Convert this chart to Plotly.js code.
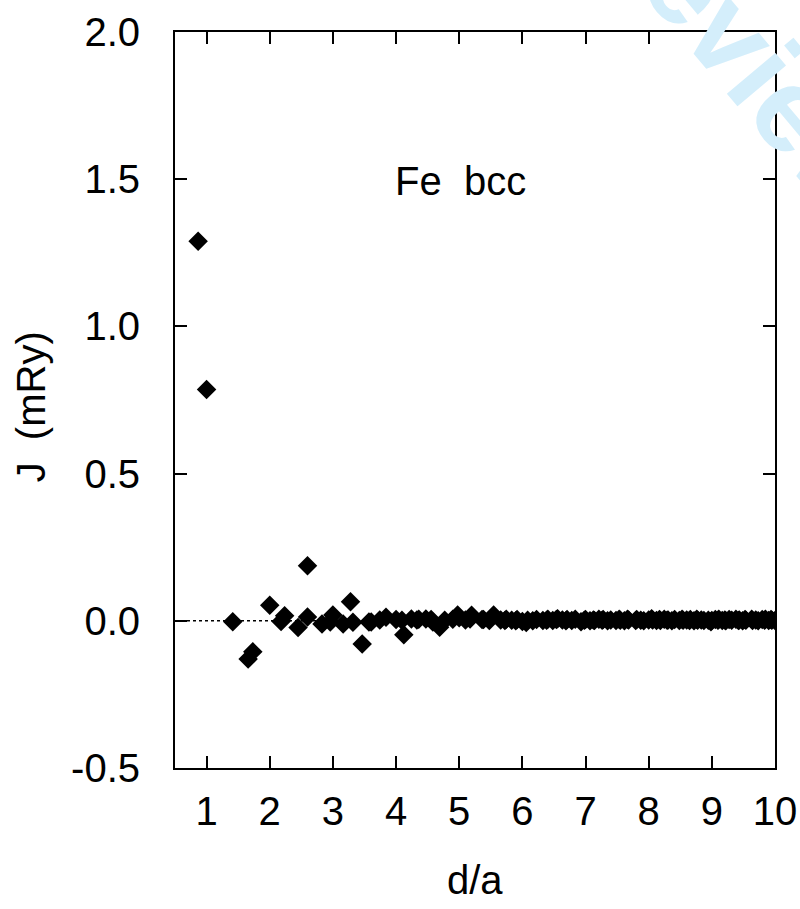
<!DOCTYPE html>
<html>
<head>
<meta charset="utf-8">
<script src="https://cdn.plot.ly/plotly-3.0.1.min.js"></script>
<style>
  html, body { margin: 0; padding: 0; background: #ffffff; }
  #chart { width: 800px; height: 909px; }
</style>
</head>
<body>
<div id="chart"></div>
<script>
// Shell distances d/a (bcc Fe) and exchange parameters J (mRy)
const distances = [
  0.866, 1.000, 1.414, 1.658, 1.732, 2.000, 2.179, 2.236, 2.449, 2.598,
  2.598, 2.828, 2.958, 3.000, 3.162, 3.279, 3.317, 3.464, 3.571, 3.606,
  3.742, 3.841, 4.000, 4.093, 4.123, 4.243, 4.330, 4.359, 4.472, 4.555,
  4.583, 4.690, 4.770, 4.899, 4.975, 5.000, 5.099, 5.172, 5.196, 5.362,
  5.385, 5.477, 5.545, 5.657, 5.723, 5.745, 5.831, 5.895, 5.916, 6.000,
  6.062, 6.083, 6.164, 6.225, 6.325, 6.384, 6.403, 6.481, 6.538, 6.557,
  6.633, 6.690, 6.708, 6.782, 6.837, 6.928, 6.982, 7.000, 7.071, 7.124,
  7.141, 7.211, 7.263, 7.280, 7.349, 7.399, 7.483, 7.533, 7.550, 7.616,
  7.665, 7.681, 7.794, 7.810, 7.874, 7.922, 8.000, 8.047, 8.062, 8.124,
  8.170, 8.185, 8.246, 8.292, 8.307, 8.367, 8.411, 8.485, 8.529, 8.544,
  8.602, 8.646, 8.660, 8.718, 8.761, 8.775, 8.832, 8.874, 8.944, 8.986,
  9.000, 9.055, 9.097, 9.110, 9.165, 9.206, 9.220, 9.274, 9.314, 9.381,
  9.421, 9.434, 9.487, 9.526, 9.539, 9.631, 9.644, 9.695, 9.734, 9.798,
  9.836, 9.849, 9.900, 9.937, 9.950, 10.000
];
const jValues = [
  1.289, 0.786, -0.003, -0.130, -0.105, 0.053, -0.002, 0.017, -0.023, 0.187,
  0.013, -0.011, -0.004, 0.020, -0.011, 0.065, -0.005, -0.079, -0.004, -0.004,
  0.003, 0.012, 0.004, 0.002, -0.047, 0.006, 0.003, 0.005, 0.006, 0.004,
  -0.004, -0.022, 0.002, 0.005, 0.020, 0.010, 0.003, 0.006, 0.019, 0.004,
  0.004, 0.001, 0.020, 0.003, 0.001, 0.005, 0.002, 0.000, 0.004, -0.002,
  -0.006, 0.002, 0.000, 0.004, 0.001, 0.002, 0.005, 0.001, 0.004, 0.007,
  0.003, 0.000, 0.004, 0.001, 0.005, -0.003, 0.002, 0.004, 0.000, 0.003,
  0.001, 0.005, 0.002, 0.004, 0.000, 0.003, 0.001, 0.005, 0.002, 0.000,
  0.005, 0.003, 0.001, 0.004, 0.002, 0.000, 0.003, 0.007, 0.003, 0.001,
  0.004, 0.001, 0.005, 0.002, 0.003, 0.000, 0.004, 0.001, 0.005, 0.002,
  0.003, 0.001, 0.004, 0.000, 0.005, 0.002, 0.003, 0.001, 0.002, -0.003,
  0.001, 0.004, 0.002, 0.005, 0.001, 0.003, 0.000, 0.004, 0.002, 0.005,
  0.001, 0.003, 0.000, 0.004, 0.002, 0.005, 0.001, 0.003, 0.000, 0.004,
  0.002, 0.005, 0.001, 0.004, 0.002, 0.001
];
const xTickVals = [1, 2, 3, 4, 5, 6, 7, 8, 9, 10];
const xTickText = ['1', '2', '3', '4', '5', '6', '7', '8', '9', '10'];
const yTickVals = [-0.5, 0.0, 0.5, 1.0, 1.5, 2.0];
const yTickText = ['-0.5', '0.0', '0.5', '1.0', '1.5', '2.0'];
const xRange = [0.5, 10];
const yRange = [-0.5, 2.0];
const zeroLineX = [0.5, 10];
const zeroLineY = [0, 0];

const FONT = 'Liberation Sans, Arial, Helvetica, sans-serif';

const traces = [
  {
    x: zeroLineX, y: zeroLineY, type: 'scatter', mode: 'lines',
    line: { color: '#000000', width: 1.5, dash: 'dot' },
    hoverinfo: 'skip', showlegend: false
  },
  {
    x: distances, y: jValues, type: 'scatter', mode: 'markers',
    marker: { symbol: 'diamond', size: 15, color: '#000000', line: { width: 0 } },
    showlegend: false, cliponaxis: true
  }
];

const axisCommon = {
  showgrid: false, zeroline: false, showline: true, linecolor: '#000000', linewidth: 2,
  mirror: 'ticks', ticks: 'inside', ticklen: 12, tickwidth: 2, tickcolor: '#000000',
  tickfont: { family: FONT, size: 40, color: '#000000' }
};

const layout = {
  width: 800, height: 909,
  margin: { l: 175, r: 25, t: 32, b: 141, pad: 0 },
  paper_bgcolor: '#ffffff', plot_bgcolor: '#ffffff',
  showlegend: false,
  xaxis: Object.assign({}, axisCommon, {
    range: xRange, tickmode: 'array', tickvals: xTickVals, ticktext: xTickText,
    ticklabelstandoff: 7
  }),
  yaxis: Object.assign({}, axisCommon, {
    range: yRange, tickmode: 'array', tickvals: yTickVals, ticktext: yTickText,
    ticklabelstandoff: 25
  }),
  annotations: [
    {
      text: '<b>Review</b>', xref: 'paper', yref: 'paper', x: 0.95, y: 0.975,
      xanchor: 'center', yanchor: 'middle', showarrow: false, textangle: 50,
      font: { family: FONT, size: 120, color: '#d4eefb' }
    },
    {
      text: 'Fe&nbsp;&nbsp;bcc', xref: 'x', yref: 'y', x: 5.016, y: 1.4925,
      xanchor: 'center', yanchor: 'middle', showarrow: false,
      font: { family: FONT, size: 40, color: '#000000' }
    },
    {
      text: 'd/a', xref: 'paper', yref: 'paper', x: 0.5, y: -0.152,
      xanchor: 'center', yanchor: 'middle', showarrow: false,
      font: { family: FONT, size: 40, color: '#000000' }
    },
    {
      text: 'J&nbsp;&nbsp;(mRy)', xref: 'paper', yref: 'paper', x: -0.24, y: 0.49,
      xanchor: 'center', yanchor: 'middle', showarrow: false, textangle: -90,
      font: { family: FONT, size: 40, color: '#000000' }
    }
  ]
};

Plotly.newPlot('chart', traces, layout, { displayModeBar: false, staticPlot: true });
</script>
</body>
</html>
